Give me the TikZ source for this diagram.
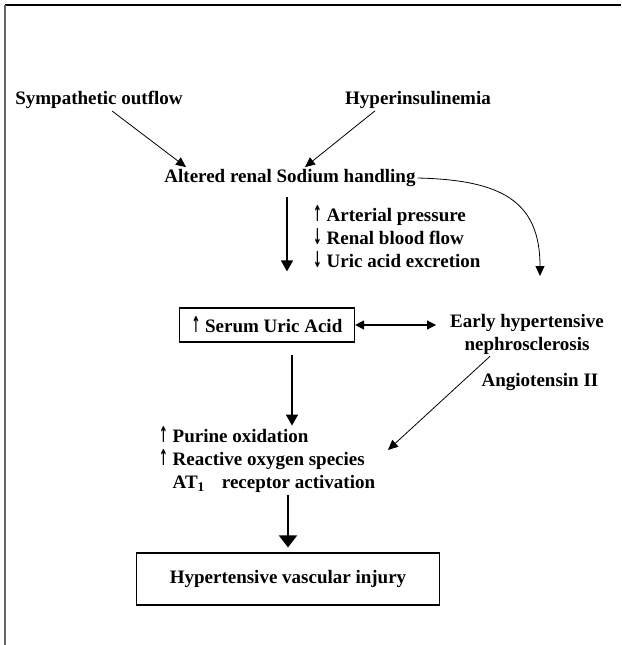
\documentclass[tikz,border=0pt]{standalone}
\usepackage{fontspec}
\setmainfont{Liberation Serif}
\newfontfamily\arrfont{DejaVu Sans}
\newcommand{\uparr}{\scalebox{0.55}[1.15]{\arrfont\bfseries ↑}}
\newcommand{\dnarr}{\scalebox{0.55}[1.15]{\arrfont\bfseries ↓}}
\usetikzlibrary{arrows.meta}

\tikzset{
  lbl/.style={font=\bfseries\fontsize{19}{23}\selectfont, inner sep=2pt},
  framebox/.style={lbl, draw, line width=1.2pt},
  tip/.style={-{Triangle[width=9pt,length=10pt]}, line width=0.8pt},
  bigtip/.style={-{Triangle[width=12pt,length=11pt]}, line width=1.4pt},
}

\begin{document}
\begin{tikzpicture}[x=1pt,y=-1pt]
    \useasboundingbox (0,0) rectangle (621,645);
    % page frame
    \draw[line width=1.4pt] (5,5) -- (621,5);
    \draw[line width=2.2pt,black!60] (5,5) -- (5,645);

    \node[lbl] (sym) at (99,100) {Sympathetic outflow};
    \node[lbl] (hyp) at (418,100) {Hyperinsulinemia};
    \node[lbl] (alt) at (290,178) {Altered renal Sodium handling};
    \node[lbl,align=left,anchor=west] (eff) at (311,237) {\uparr\ Arterial pressure\\\dnarr\ Renal blood flow\\\dnarr\ Uric acid excretion};
    \node[framebox,minimum width=175pt,minimum height=34pt] (sua) at (267,325) {\uparr\ Serum Uric Acid};
    \node[lbl,align=center] (ehn) at (527,334) {Early hypertensive\\nephrosclerosis};
    \node[lbl] (ang) at (540,382) {Angiotensin II};
    \node[lbl,align=left,anchor=west] (pur) at (157,460) {\uparr\ Purine oxidation\\\uparr\ Reactive oxygen species\\\phantom{\uparr\ }AT\textsubscript{1}\hspace{0.9em}receptor activation};
    \node[framebox,minimum width=303pt,minimum height=52pt] (hvi) at (288,579) {Hypertensive vascular injury};

    \coordinate (ehntop) at (540,276);
    \coordinate (purtip) at (388,450);

    \draw[tip] ([xshift=13pt]sym.south) -- ([xshift=-104pt]alt.north);
    \draw[tip] ([xshift=-43pt]hyp.south) -- ([xshift=15pt]alt.north);
    \draw[tip] (alt.east) .. controls (500,180) and (540,200) .. (ehntop);
    \draw[bigtip] ([xshift=-3pt,yshift=-8pt]alt.south) -- ([xshift=20pt,yshift=36pt]sua.north);
    \draw[{Triangle[width=9pt,length=9pt]}-{Triangle[width=9pt,length=9pt]}, line width=1.2pt] (sua.east) -- ([xshift=-12pt]ehn.west |- sua.east);
    \draw[bigtip] ([xshift=25pt,yshift=-12pt]sua.south) -- ([xshift=25pt,yshift=-83pt]sua.south);
    \draw[tip] ([xshift=-37pt]ehn.south) -- (purtip);
    \draw[bigtip,line width=1.8pt,-{Triangle[width=18pt,length=12pt]}] (hvi.north |- pur.south) -- ([yshift=5pt]hvi.north);
\end{tikzpicture}
\end{document}
